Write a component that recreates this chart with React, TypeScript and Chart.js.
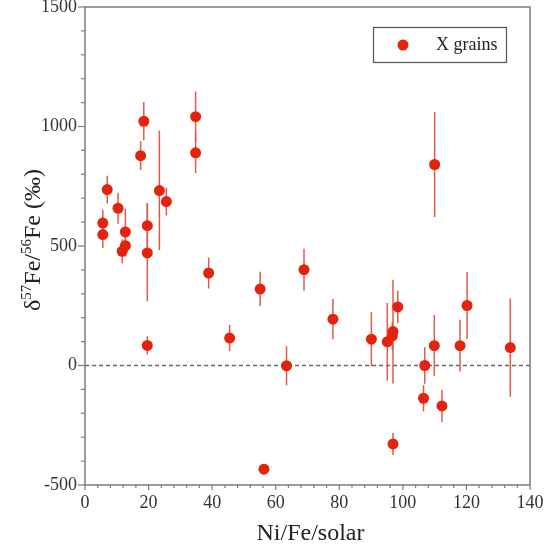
import React, { useEffect, useRef } from 'react';
import { Chart, registerables } from 'chart.js';

Chart.register(...registerables);

const FONT = '"Liberation Serif", "Times New Roman", Times, serif';

// Ni/Fe relative to solar (x)
const niFe = [18.5, 34.8, 34.8, 17.5, 7.0, 23.4, 25.6, 10.4, 5.6, 5.6, 12.7, 19.6, 12.7, 11.7, 19.6, 19.6, 38.9, 45.5, 55.1, 56.3, 63.4, 68.9, 78.0, 90.1, 95.1, 96.9, 96.7, 98.4, 96.9, 106.9, 106.5, 109.9, 112.3, 118.0, 120.2, 133.8, 110.0];
// delta 57Fe/56Fe in permil (y)
const delta57 = [1022, 1041, 890, 878, 736, 732, 686, 658, 596, 548, 559, 585, 501, 478, 471, 84, 387, 115, 320, -434, -1, 401, 194, 110, 99, 142, 124, 245, -328, 0, -137, 83, -169, 83, 251, 75, 841];
// 1-sigma errors
const errors = [80, 105, 85, 60, 58, 250, 58, 65, 56, 56, 97, 95, 45, 50, 203, 38, 65, 55, 72, 15, 82, 88, 84, 113, 163, 217, 60, 68, 46, 76, 55, 128, 68, 108, 140, 206, 220];

const seriesLabel = 'X grains';
const xTitle = 'Ni/Fe/solar';
const yTitleParts: [string, boolean][] = [['δ', false], ['57', true], ['Fe/', false], ['56', true], ['Fe (‰)', false]];

const xMin = 0, xMax = 140, xStep = 20, xMinor = 4;
const yMin = -500, yMax = 1500, yStep = 500, yMinor = 100;

const RED = '#e3230d';
const BAR = '#e15a47';
const AXIS = '#7c7c7c';

export default function App() {
  const ref = useRef<HTMLCanvasElement>(null);

  useEffect(() => {
    document.body.style.margin = '0';
    const canvas = ref.current;
    if (!canvas) return;
    const points = niFe.map((x, i) => ({ x, y: delta57[i] }));

    const decor = {
      id: 'decor',
      beforeDatasetsDraw(chart: any) {
        const { ctx, chartArea: a, scales } = chart;
        const xs = scales.x, ys = scales.y;
        ctx.save();
        // zero dashed line
        const y0 = ys.getPixelForValue(0);
        ctx.strokeStyle = '#666';
        ctx.lineWidth = 1.5;
        ctx.setLineDash([4, 3]);
        ctx.beginPath();
        ctx.moveTo(a.left, y0);
        ctx.lineTo(a.right, y0);
        ctx.stroke();
        ctx.setLineDash([]);
        // error bars
        ctx.strokeStyle = BAR;
        ctx.lineWidth = 1.5;
        niFe.forEach((v, i) => {
          const px = xs.getPixelForValue(v);
          ctx.beginPath();
          ctx.moveTo(px, ys.getPixelForValue(delta57[i] - errors[i]));
          ctx.lineTo(px, ys.getPixelForValue(delta57[i] + errors[i]));
          ctx.stroke();
        });
        ctx.restore();
      },
      afterDraw(chart: any) {
        const { ctx, chartArea: a, scales } = chart;
        const xs = scales.x, ys = scales.y;
        ctx.save();
        // frame
        ctx.strokeStyle = AXIS;
        ctx.lineWidth = 1.5;
        ctx.strokeRect(a.left, a.top, a.right - a.left, a.bottom - a.top);
        // y ticks
        ctx.lineWidth = 1.2;
        for (let v = yMin; v <= yMax; v += yMinor) {
          const py = ys.getPixelForValue(v);
          const len = v % yStep === 0 ? 7 : 4;
          ctx.beginPath();
          ctx.moveTo(a.left - len, py);
          ctx.lineTo(a.left, py);
          ctx.stroke();
        }
        // x ticks
        for (let v = xMin; v <= xMax; v += xMinor) {
          const px = xs.getPixelForValue(v);
          const len = v % xStep === 0 ? 5 : 3;
          ctx.beginPath();
          ctx.moveTo(px, a.bottom);
          ctx.lineTo(px, a.bottom + len);
          ctx.stroke();
        }
        // x title
        ctx.fillStyle = '#222';
        ctx.font = `24px ${FONT}`;
        ctx.textAlign = 'center';
        ctx.textBaseline = 'alphabetic';
        ctx.fillText(xTitle, (a.left + a.right) / 2 + 3, 540);
        // y title (rotated, with superscripts)
        ctx.translate(40, 240);
        ctx.rotate(-Math.PI / 2);
        ctx.textAlign = 'left';
        const big = `24px ${FONT}`, small = `15px ${FONT}`;
        let total = 0;
        yTitleParts.forEach(([t, sup]) => {
          ctx.font = sup ? small : big;
          total += ctx.measureText(t).width;
        });
        let cx = -total / 2;
        yTitleParts.forEach(([t, sup]) => {
          ctx.font = sup ? small : big;
          ctx.fillText(t, cx, sup ? -9 : 0);
          cx += ctx.measureText(t).width;
        });
        ctx.setTransform(1, 0, 0, 1, 0, 0);
        // legend
        ctx.strokeStyle = '#555';
        ctx.lineWidth = 1.2;
        ctx.strokeRect(373.5, 27.5, 133, 35);
        ctx.fillStyle = RED;
        ctx.beginPath();
        ctx.arc(403, 45, 5.5, 0, Math.PI * 2);
        ctx.fill();
        ctx.fillStyle = '#222';
        ctx.font = `18px ${FONT}`;
        ctx.textAlign = 'left';
        ctx.textBaseline = 'middle';
        ctx.fillText(seriesLabel, 436, 45);
        ctx.restore();
      },
    };

    const chart = new Chart(canvas, {
      type: 'scatter',
      data: {
        datasets: [
          {
            label: seriesLabel,
            data: points,
            backgroundColor: RED,
            borderColor: RED,
            borderWidth: 0,
            pointRadius: 5.5,
            pointHoverRadius: 5.5,
          },
        ],
      },
      options: {
        responsive: false,
        animation: false,
        events: [],
        layout: { padding: { top: 7, right: 21, bottom: 0, left: 0 } },
        plugins: { legend: { display: false }, tooltip: { enabled: false } },
        scales: {
          x: {
            type: 'linear',
            min: xMin,
            max: xMax,
            grid: { display: false, drawTicks: false },
            border: { display: false },
            ticks: {
              stepSize: xStep,
              padding: 7,
              color: '#333',
              font: { family: FONT, size: 18 },
              callback: (v: any) => String(v),
            },
            afterFit(s: any) {
              s.height = 64;
              s.paddingLeft = 0;
              s.paddingRight = 0;
            },
          },
          y: {
            type: 'linear',
            min: yMin,
            max: yMax,
            grid: { display: false, drawTicks: false },
            border: { display: false },
            ticks: {
              stepSize: yStep,
              padding: 8,
              color: '#333',
              font: { family: FONT, size: 18 },
              callback: (v: any) => String(v),
            },
            afterFit(s: any) {
              s.width = 85;
              s.paddingTop = 0;
              s.paddingBottom = 0;
            },
          },
        },
      },
      plugins: [decor],
    });
    return () => chart.destroy();
  }, []);

  return <canvas ref={ref} width={551} height={549} style={{ display: 'block' }} />;
}
